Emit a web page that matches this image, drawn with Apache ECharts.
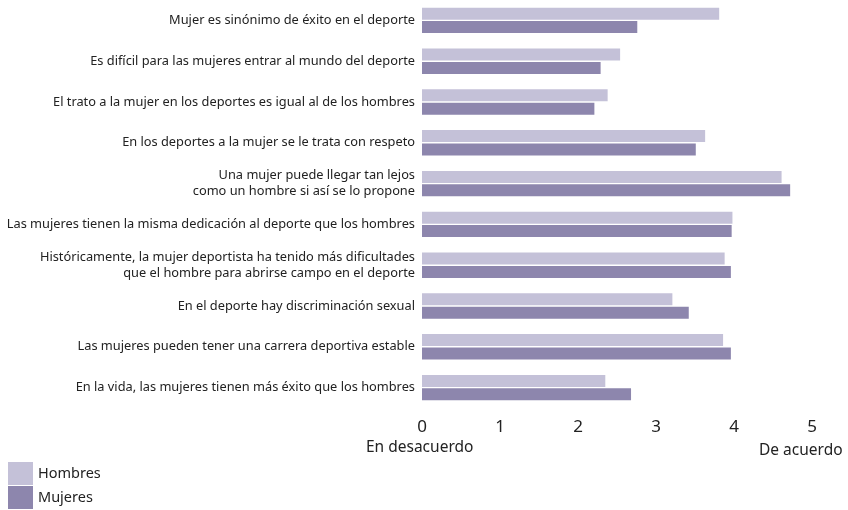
<!DOCTYPE html>
<html>
<head>
<meta charset="utf-8">
<script src="https://cdn.jsdelivr.net/npm/echarts@6/dist/echarts.min.js"></script>
<style>html,body{margin:0;padding:0;background:#fff;}#c{width:848px;height:510px;}</style>
</head>
<body>
<div id="c"></div>
<script>
const categories = [
  "Mujer es sinónimo de éxito en el deporte",
  "Es difícil para las mujeres entrar al mundo del deporte",
  "El trato a la mujer en los deportes es igual al de los hombres",
  "En los deportes a la mujer se le trata con respeto",
  "Una mujer puede llegar tan lejos\ncomo un hombre si así se lo propone",
  "Las mujeres tienen la misma dedicación al deporte que los hombres",
  "Históricamente, la mujer deportista ha tenido más dificultades\nque el hombre para abrirse campo en el deporte",
  "En el deporte hay discriminación sexual",
  "Las mujeres pueden tener una carrera deportiva estable",
  "En la vida, las mujeres tienen más éxito que los hombres"
];
const hombres = [3.81, 2.54, 2.38, 3.63, 4.61, 3.98, 3.88, 3.21, 3.86, 2.35];
const mujeres = [2.76, 2.29, 2.21, 3.51, 4.72, 3.97, 3.96, 3.42, 3.96, 2.68];
const xTicks = [0, 1, 2, 3, 4, 5];

const chart = echarts.init(document.getElementById('c'));
const font = "'Noto Sans', sans-serif";
chart.setOption({
  animation: false,
  textStyle: { fontFamily: font },
  grid: { left: 422, right: 36, top: -4, bottom: 102, containLabel: false },
  legend: {
    orient: 'vertical', left: 8, top: 462, padding: 0,
    itemWidth: 25, itemHeight: 23, itemGap: 1,
    icon: 'rect',
    textStyle: { fontSize: 14.5, color: '#222', fontFamily: font, padding: [2, 0, 0, 0] },
    data: ['Hombres', 'Mujeres']
  },
  xAxis: {
    type: 'value', min: 0, max: 5, interval: 1,
    axisLine: { show: false }, axisTick: { show: false }, splitLine: { show: false },
    axisLabel: {
      fontSize: 17, color: '#222', margin: 11, fontFamily: font,
      formatter: v => xTicks.includes(v) ? String(v) : ''
    }
  },
  yAxis: {
    type: 'category', inverse: true, data: categories,
    axisLine: { show: false }, axisTick: { show: false },
    axisLabel: { fontSize: 12.8, color: '#222', margin: 7, lineHeight: 16, fontFamily: font }
  },
  graphic: [
    { type: 'text', left: 366, top: 440, style: { text: 'En desacuerdo', fontSize: 15.5, fill: '#222', fontFamily: font } },
    { type: 'text', left: 759, top: 443, style: { text: 'De acuerdo', fontSize: 15.5, fill: '#222', fontFamily: font } }
  ],
  series: [
    { name: 'Hombres', type: 'bar', data: hombres, barWidth: 12, barGap: '12%', itemStyle: { color: '#c4c1d8' } },
    { name: 'Mujeres', type: 'bar', data: mujeres, barWidth: 12, barGap: '12%', itemStyle: { color: '#8d86ad' } }
  ]
});
</script>
</body>
</html>
